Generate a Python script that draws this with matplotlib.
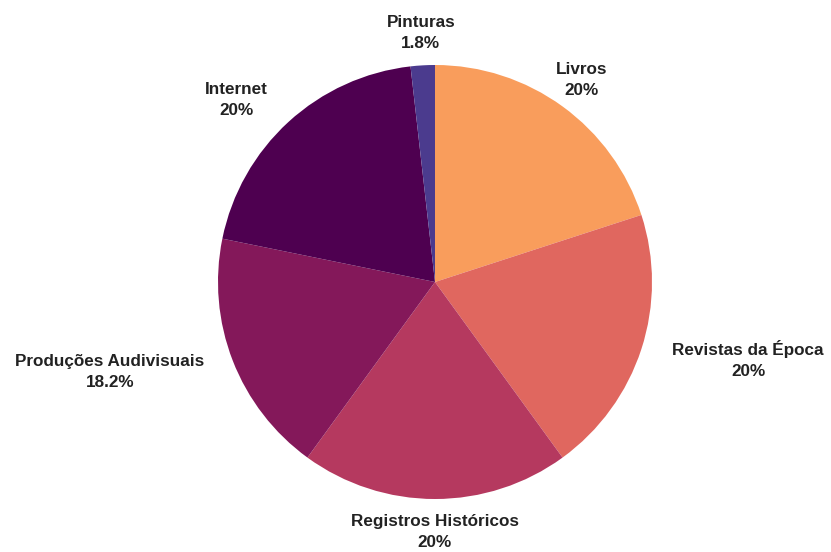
import numpy as np
import matplotlib.pyplot as plt

# dados
categorias = ['Livros', 'Revistas da Época', 'Registros Históricos',
              'Produções Audivisuais', 'Internet', 'Pinturas']
valores = [20, 20, 20, 18.2, 20, 1.8]
rotulos_pct = ['20%', '20%', '20%', '18.2%', '20%', '1.8%']
cores = ['#f99d5c', '#e0675f', '#b5395f', '#84185a', '#4e0050', '#4b3b8e']

plt.rcParams['font.family'] = ['Liberation Sans', 'DejaVu Sans']

fig = plt.figure(figsize=(8.31, 5.52), dpi=100)
ax = fig.add_axes([0, 0, 1, 1])

cx, cy, r = 435, 270, 217
wedges, _ = ax.pie(valores, colors=cores, startangle=90, counterclock=False,
                   center=(cx, cy), radius=r, frame=True,
                   wedgeprops=dict(linewidth=0))
ax.set_xlim(0, 831)
ax.set_ylim(0, 552)
ax.set_aspect('equal')
ax.axis('off')

# rótulos fora da pizza
for w, cat, pct in zip(wedges, categorias, rotulos_pct):
    ang = np.deg2rad((w.theta1 + w.theta2) / 2)
    c = np.cos(ang)
    if abs(c) < 0.65:
        ha, d = 'center', 1.15
    elif c > 0:
        ha, d = 'left', 1.15
    else:
        ha, d = 'right', 1.14
    x = cx + d * r * c
    y = cy + d * r * np.sin(ang)
    ax.text(x, y, f'{cat}\n{pct}', ha=ha, va='center', multialignment='center',
            fontsize=12.3, fontweight='bold', color='#222222', linespacing=1.5)

fig.savefig('out.png', dpi=100)
